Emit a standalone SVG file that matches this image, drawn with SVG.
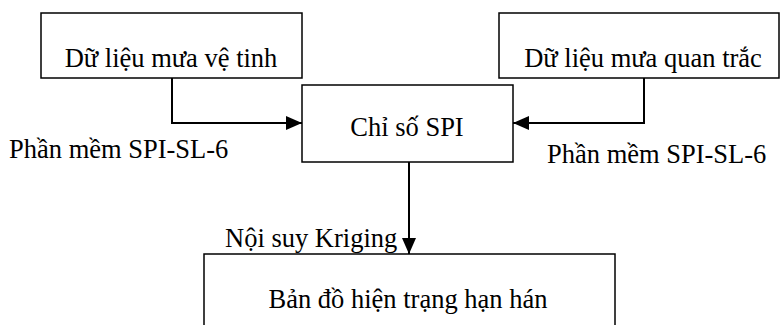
<svg xmlns="http://www.w3.org/2000/svg" width="780" height="325" viewBox="0 0 780 325">
<style>
.box{fill:#fff;stroke:#000;stroke-width:1.5}
.t{font-family:"Liberation Serif","Times New Roman",serif;font-size:26.5px;fill:#000}
.c{text-anchor:middle}
.ln{fill:none;stroke:#000;stroke-width:2}
</style>
<defs>
<marker id="ah" markerWidth="16" markerHeight="14" refX="16" refY="7" orient="auto" markerUnits="userSpaceOnUse" viewBox="0 0 16 14">
<path d="M0,0 L16,7 L0,14 z" fill="#000"/>
</marker>
</defs>
<g id="connectors">
<path class="ln" d="M172,78 V123 H302" marker-end="url(#ah)"/>
<path class="ln" d="M644,78 V123 H513" marker-end="url(#ah)"/>
<path class="ln" d="M409,162 V254" marker-end="url(#ah)"/>
</g>
<g id="n1">
<rect class="box" x="41" y="13" width="261" height="65"/>
<text class="t c" x="171" y="67">Dữ liệu mưa vệ tinh</text>
</g>
<g id="n2">
<rect class="box" x="499" y="13" width="280" height="65"/>
<text class="t c" x="643" y="67">Dữ liệu mưa quan trắc</text>
</g>
<g id="n3">
<rect class="box" x="302" y="85" width="211" height="77"/>
<text class="t c" x="407" y="136">Chỉ số SPI</text>
</g>
<g id="n4">
<rect class="box" x="204" y="254" width="411" height="80"/>
<text class="t c" x="408" y="308">Bản đồ hiện trạng hạn hán</text>
</g>
<text class="t" x="9" y="158">Phần mềm SPI-SL-6</text>
<text class="t" x="547" y="163">Phần mềm SPI-SL-6</text>
<text class="t" x="225" y="247">Nội suy Kriging</text>
</svg>
